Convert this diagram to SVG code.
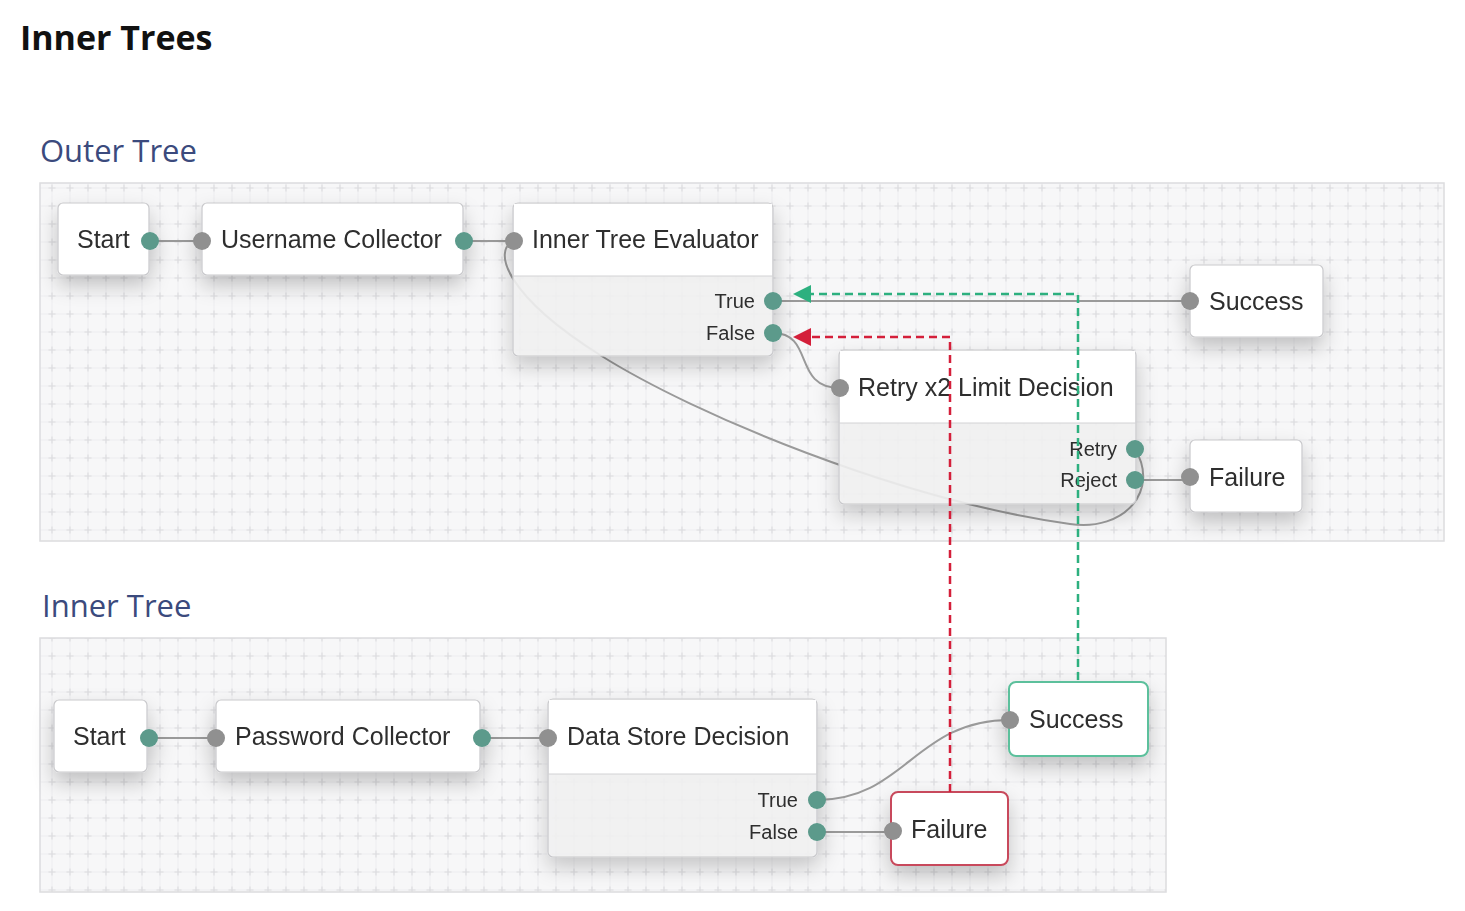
<svg xmlns="http://www.w3.org/2000/svg" width="1465" height="911" viewBox="0 0 1465 911">
<defs>
<pattern id="grid" patternUnits="userSpaceOnUse" x="43" y="17" width="18" height="18">
<rect width="18" height="18" fill="#f7f7f8"/>
<path d="M9 0V18M0 9H18" stroke="#eeeef0" stroke-width="1"/>
<path d="M9 5.5V12.5M5.5 9H12.5" stroke="#dcdcdf" stroke-width="1.1"/>
</pattern>
<filter id="sh" x="-30%" y="-30%" width="160%" height="190%">
<feDropShadow dx="0" dy="10" stdDeviation="10" flood-color="#000" flood-opacity="0.22"/>
</filter>
</defs>
<style>
.title{font-family:"Open Sans","Liberation Sans",sans-serif;font-weight:700;font-size:34px;fill:#111}
.sub{font-family:"Open Sans","Liberation Sans",sans-serif;font-size:31px;fill:#3b4a7d}
.panel{fill:url(#grid);stroke:#dcdcde;stroke-width:1.5}
.box{fill:#fff;stroke:#c9c9cc;stroke-width:1.2}
.lowbox{fill:#f2f2f3;fill-opacity:0.88;stroke:#c9c9cc;stroke-width:1.2}
.head{fill:#fff}
.sep{stroke:#d4d4d6;stroke-width:1.2}
.lbl{font-family:"Liberation Sans",Arial,sans-serif;font-size:25px;fill:#2e2e2e}
.plbl{font-family:"Liberation Sans",Arial,sans-serif;font-size:20px;fill:#2e2e2e;text-anchor:end}
.pin{fill:#909090}
.pout{fill:#5b9a8b}
.wire{fill:none;stroke:#9a9a9a;stroke-width:2}
.dg{fill:none;stroke:#2db07f;stroke-width:2.5;stroke-dasharray:8 5}
.dr{fill:none;stroke:#d41f3a;stroke-width:2.5;stroke-dasharray:8 5}
</style>
<rect width="1465" height="911" fill="#fff"/>
<text class="title" x="20" y="50">Inner Trees</text>
<text class="sub" x="40" y="162">Outer Tree</text>
<text class="sub" x="42" y="617">Inner Tree</text>
<rect id="outer-panel" class="panel" x="40" y="183" width="1404" height="358"/>
<rect id="inner-panel" class="panel" x="40" y="638" width="1126" height="254"/>

<g id="connectors">
<path class="wire" d="M150 241H202"/>
<path class="wire" d="M464 241H514"/>
<path class="wire" d="M773 301H1190"/>
<path class="wire" d="M773 333C815 333 792 388 840 388"/>
<path class="wire" d="M1135 449C1160 490 1125 532 1070 524C900 500 695 415 600 355C505 295 492 250 514 241"/>
<path class="wire" d="M1135 480H1190"/>
<path class="wire" d="M149 738H216"/>
<path class="wire" d="M482 738H548"/>
<path class="wire" d="M817 800C905 800 915 720 1010 720"/>
<path class="wire" d="M817 832H893"/>
</g>

<g id="o-start" filter="url(#sh)">
<rect class="box" x="58" y="203" width="91" height="72" rx="5"/>
<text class="lbl" x="77" y="248">Start</text>
<circle class="pout" cx="150" cy="241" r="9"/>
</g>
<g id="o-username" filter="url(#sh)">
<rect class="box" x="202" y="203" width="261" height="72" rx="5"/>
<text class="lbl" x="221" y="248">Username Collector</text>
<circle class="pin" cx="202" cy="241" r="9"/>
<circle class="pout" cx="464" cy="241" r="9"/>
</g>
<g id="o-ite" filter="url(#sh)">
<rect class="lowbox" x="513" y="203" width="260" height="153" rx="5"/>
<path class="head" d="M514 204H772V276H514Z"/>
<line class="sep" x1="513" y1="276" x2="773" y2="276"/>
<text class="lbl" x="532" y="248">Inner Tree Evaluator</text>
<text class="plbl" x="755" y="308">True</text>
<text class="plbl" x="755" y="340">False</text>
<circle class="pin" cx="514" cy="241" r="9"/>
<circle class="pout" cx="773" cy="301" r="9"/>
<circle class="pout" cx="773" cy="333" r="9"/>
</g>
<g id="o-success" filter="url(#sh)">
<rect class="box" x="1190" y="265" width="133" height="72" rx="5"/>
<text class="lbl" x="1209" y="310">Success</text>
<circle class="pin" cx="1190" cy="301" r="9"/>
</g>
<g id="o-retry" filter="url(#sh)">
<rect class="lowbox" x="839" y="350" width="297" height="154" rx="5"/>
<path class="head" d="M840 351H1135V423H840Z"/>
<line class="sep" x1="839" y1="423" x2="1136" y2="423"/>
<text class="lbl" x="858" y="396">Retry x2 Limit Decision</text>
<text class="plbl" x="1117" y="456">Retry</text>
<text class="plbl" x="1117" y="487">Reject</text>
<circle class="pin" cx="840" cy="388" r="9"/>
<circle class="pout" cx="1135" cy="449" r="9"/>
<circle class="pout" cx="1135" cy="480" r="9"/>
</g>
<g id="o-failure" filter="url(#sh)">
<rect class="box" x="1190" y="440" width="112" height="72" rx="5"/>
<text class="lbl" x="1209" y="486">Failure</text>
<circle class="pin" cx="1190" cy="477" r="9"/>
</g>

<g id="i-start" filter="url(#sh)">
<rect class="box" x="54" y="700" width="93" height="72" rx="5"/>
<text class="lbl" x="73" y="745">Start</text>
<circle class="pout" cx="149" cy="738" r="9"/>
</g>
<g id="i-password" filter="url(#sh)">
<rect class="box" x="216" y="700" width="264" height="72" rx="5"/>
<text class="lbl" x="235" y="745">Password Collector</text>
<circle class="pin" cx="216" cy="738" r="9"/>
<circle class="pout" cx="482" cy="738" r="9"/>
</g>
<g id="i-datastore" filter="url(#sh)">
<rect class="lowbox" x="548" y="699" width="269" height="158" rx="5"/>
<path class="head" d="M549 700H816V774H549Z"/>
<line class="sep" x1="548" y1="774" x2="817" y2="774"/>
<text class="lbl" x="567" y="745">Data Store Decision</text>
<text class="plbl" x="798" y="807">True</text>
<text class="plbl" x="798" y="839">False</text>
<circle class="pin" cx="548" cy="738" r="9"/>
<circle class="pout" cx="817" cy="800" r="9"/>
<circle class="pout" cx="817" cy="832" r="9"/>
</g>
<g id="i-success" filter="url(#sh)">
<rect x="1009" y="682" width="139" height="74" rx="7" fill="#fff" stroke="#5cc09c" stroke-width="2"/>
<text class="lbl" x="1029" y="728">Success</text>
<circle class="pin" cx="1010" cy="720" r="9"/>
</g>
<g id="i-failure" filter="url(#sh)">
<rect x="891" y="792" width="117" height="73" rx="7" fill="#fff" stroke="#c84a5c" stroke-width="2"/>
<text class="lbl" x="911" y="838">Failure</text>
<circle class="pin" cx="893" cy="831" r="9"/>
</g>

<g id="connectors-overlay">
<path class="dg" d="M1078 680V294H808"/>
<polygon points="793,294 811,285 811,303" fill="#2db07f"/>
<path class="dr" d="M950 792V337H808"/>
<polygon points="793,337 811,328 811,346" fill="#d41f3a"/>
</g>
</svg>
